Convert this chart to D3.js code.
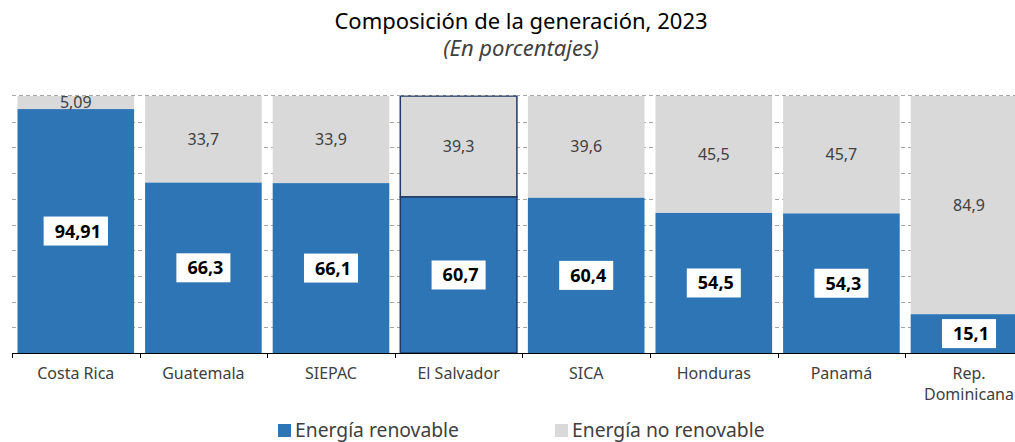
<!DOCTYPE html>
<html>
<head>
<meta charset="utf-8">
<script src="https://cdn.jsdelivr.net/npm/d3@7"></script>
<style>
  body { margin: 0; background: #fff; overflow: hidden; }
  svg { display: block; font-family: "Noto Sans", "Open Sans", sans-serif; }
  .grid line { stroke: #a6a6a6; stroke-dasharray: 4,3; }
  .cat-label { fill: #404040; font-size: 16px; }
  .val-top { fill: #404040; font-size: 16px; }
  .val-bottom { fill: #000; font-size: 18px; font-weight: bold; }
  .legend text { fill: #404040; font-size: 19.3px; }
</style>
</head>
<body>
<div id="chart"></div>
<script>
// Data
var CATEGORIES = ["Costa Rica", "Guatemala", "SIEPAC", "El Salvador", "SICA", "Honduras", "Panamá", "Rep. Dominicana"];
var RENOVABLE = [94.91, 66.3, 66.1, 60.7, 60.4, 54.5, 54.3, 15.1];
var NO_RENOVABLE = [5.09, 33.7, 33.9, 39.3, 39.6, 45.5, 45.7, 84.9];
var Y_TICKS = [0, 10, 20, 30, 40, 50, 60, 70, 80, 90, 100];
var SERIES = ["Energía renovable", "Energía no renovable"];
var COLORS = ["#2e75b6", "#d9d9d9"];
var HIGHLIGHT = "El Salvador";

var width = 1015;
var height = 442;
var margins = { top: 96, left: 12, bottom: 89 };
var step = 127.6;

var fmt = function(v) { return String(v).replace(".", ","); };

var svg = d3.select("#chart")
  .append("svg")
  .attr("width", width)
  .attr("height", height);

// Scales
var xScale = d3.scaleBand()
  .domain(CATEGORIES)
  .range([margins.left, margins.left + step * CATEGORIES.length])
  .paddingInner(0.086)
  .paddingOuter(0.043);

var yScale = d3.scaleLinear()
  .domain([0, 100])
  .range([height - margins.bottom, margins.top]);

var gapHalf = xScale.step() * xScale.paddingInner() / 2;

// Title
svg.append("text")
  .attr("x", 521)
  .attr("y", 29)
  .attr("text-anchor", "middle")
  .attr("font-size", 22)
  .attr("fill", "#000")
  .text("Composición de la generación, 2023");

svg.append("text")
  .attr("x", 521)
  .attr("y", 56)
  .attr("text-anchor", "middle")
  .attr("font-size", 22)
  .attr("font-style", "italic")
  .attr("fill", "#404040")
  .text("(En porcentajes)");

// Grid (behind bars)
svg.append("g")
  .attr("class", "grid")
  .selectAll("line")
  .data(Y_TICKS.slice(1, -1))
  .enter()
  .append("line")
  .attr("x1", margins.left)
  .attr("x2", width)
  .attr("y1", d => Math.round(yScale(d)) + 0.5)
  .attr("y2", d => Math.round(yScale(d)) + 0.5);

// Bars
var rows = CATEGORIES.map((c, i) => ({ cat: c, ren: RENOVABLE[i], noren: NO_RENOVABLE[i] }));

var bars = svg.append("g")
  .selectAll("g")
  .data(rows)
  .enter()
  .append("g")
  .attr("transform", d => "translate(" + xScale(d.cat) + ",0)");

bars.append("rect")
  .attr("x", 0)
  .attr("width", xScale.bandwidth())
  .attr("y", d => yScale(d.ren + d.noren))
  .attr("height", d => yScale(d.ren) - yScale(d.ren + d.noren))
  .attr("fill", COLORS[1]);

bars.append("rect")
  .attr("x", 0)
  .attr("width", xScale.bandwidth())
  .attr("y", d => yScale(d.ren))
  .attr("height", d => yScale(0) - yScale(d.ren))
  .attr("fill", COLORS[0]);

// Highlighted outline
bars.filter(d => d.cat == HIGHLIGHT)
  .selectAll("rect")
  .attr("stroke", "#1f3864")
  .attr("stroke-width", 1.5);

// Top grid line sits over the bars
svg.append("g")
  .attr("class", "grid")
  .append("line")
  .attr("x1", margins.left)
  .attr("x2", width)
  .attr("y1", yScale(100) - 0.5)
  .attr("y2", yScale(100) - 0.5);

// Value labels
bars.append("text")
  .attr("class", "val-top")
  .attr("text-anchor", "middle")
  .attr("x", xScale.bandwidth() / 2)
  .attr("y", d => (yScale(d.ren) + yScale(d.ren + d.noren)) / 2)
  .attr("dy", "0.35em")
  .text(d => fmt(d.noren));

var bottomLabels = bars.append("g")
  .attr("transform", d => "translate(" + xScale.bandwidth() / 2 + "," + (yScale(d.ren) + yScale(0)) / 2 + ")");

bottomLabels.append("rect").attr("fill", "#fff");

bottomLabels.append("text")
  .attr("class", "val-bottom")
  .attr("text-anchor", "middle")
  .attr("x", 2)
  .attr("dy", "0.36em")
  .text(d => fmt(d.ren));

bottomLabels.each(function() {
  var g = d3.select(this);
  var w = g.select("text").node().getBBox().width + 18;
  g.select("rect")
    .attr("x", -w / 2)
    .attr("y", -14.5)
    .attr("width", w)
    .attr("height", 29);
});

// X axis
var axis = svg.append("g")
  .attr("transform", "translate(0," + yScale(0) + ")");

axis.append("line")
  .attr("x1", margins.left)
  .attr("x2", width)
  .attr("y1", 0.5)
  .attr("y2", 0.5)
  .attr("stroke", "#000");

axis.selectAll(".tick")
  .data(CATEGORIES)
  .enter()
  .append("line")
  .attr("class", "tick")
  .attr("x1", d => Math.round(xScale(d) - gapHalf) + 0.5)
  .attr("x2", d => Math.round(xScale(d) - gapHalf) + 0.5)
  .attr("y1", 0)
  .attr("y2", 5)
  .attr("stroke", "#000");

axis.selectAll(".cat-label")
  .data(CATEGORIES)
  .enter()
  .append("text")
  .attr("class", "cat-label")
  .attr("text-anchor", "middle")
  .attr("x", d => xScale(d) + xScale.bandwidth() / 2)
  .attr("y", 26)
  .each(function(d) {
    var parts = d == "Rep. Dominicana" ? ["Rep.", "Dominicana"] : [d];
    var t = d3.select(this);
    parts.forEach(function(p, i) {
      t.append("tspan")
        .attr("x", xScale(d) + xScale.bandwidth() / 2)
        .attr("dy", i == 0 ? 0 : 21)
        .text(p);
    });
  });

// Legend
var legendX = [278, 555];
var legend = svg.append("g").attr("class", "legend");

legend.selectAll("rect")
  .data(SERIES)
  .enter()
  .append("rect")
  .attr("x", (d, i) => legendX[i])
  .attr("y", 424)
  .attr("width", 13)
  .attr("height", 13)
  .attr("fill", (d, i) => COLORS[i]);

legend.selectAll("text")
  .data(SERIES)
  .enter()
  .append("text")
  .attr("x", (d, i) => legendX[i] + 17)
  .attr("y", 437)
  .text(d => d);
</script>
</body>
</html>
